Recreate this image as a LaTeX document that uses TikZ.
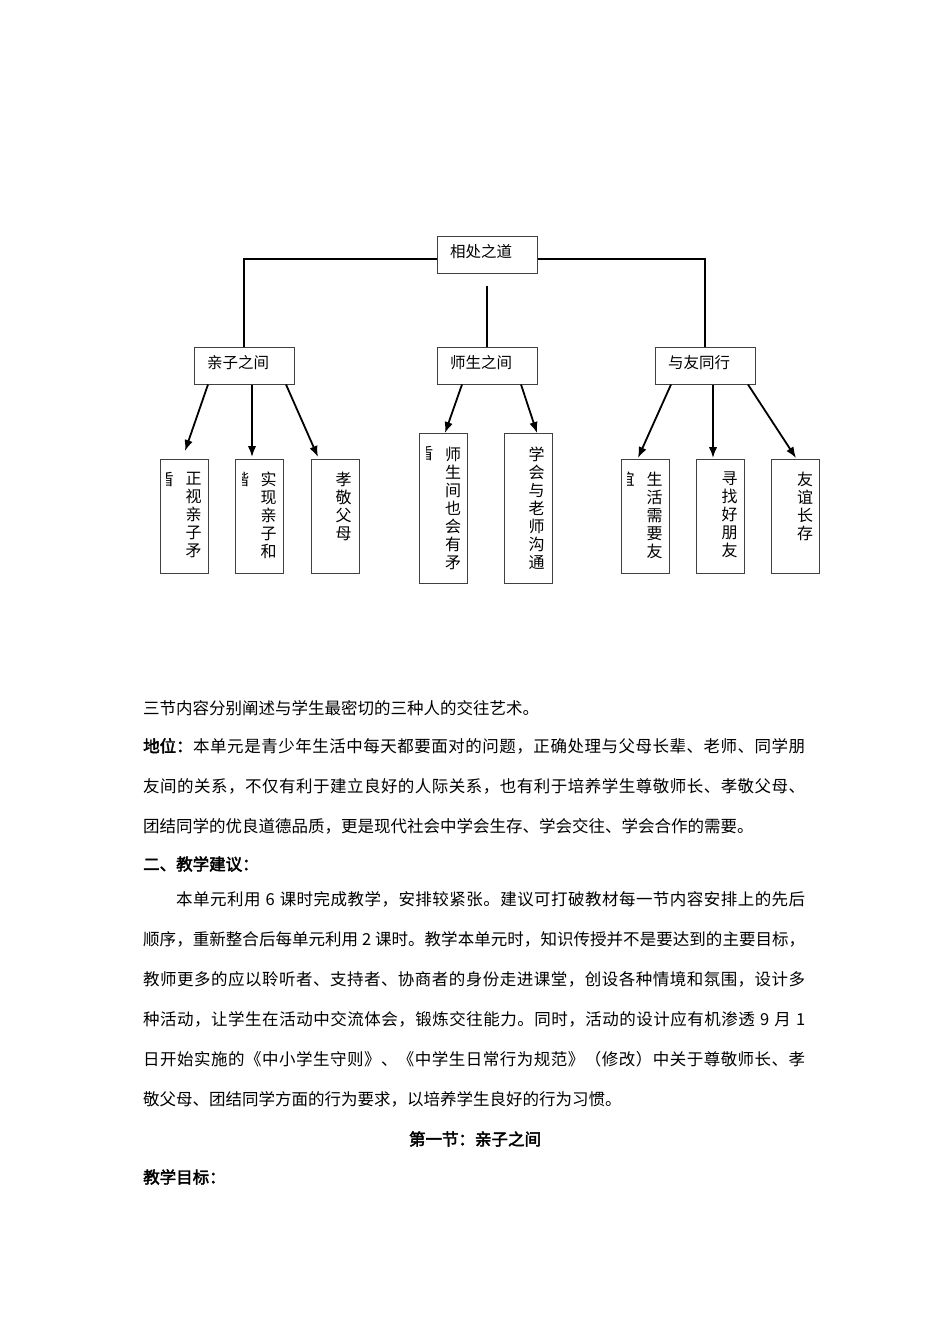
\documentclass[tikz,border=0pt]{standalone}
\usepackage{fontspec}
\newfontfamily\cjk[AutoFakeBold=2.5]{Noto Sans CJK SC}
\usetikzlibrary{
  arrows.meta,
  calc,
  positioning
}

\newcommand\spread[1]{#1\spreadrest}
\newcommand\spreadrest[1]{\ifx\relax#1\else\hskip0pt plus1pt\relax #1\expandafter\spreadrest\fi}
\newcommand\cutchar[2]{%
  \begin{scope}
    \clip ($(#1.north)+(-17.5,5)$) rectangle ($(#1.north)+(-10,35)$);
    \node[vcol] (#1-cut) at ($(#1.north)+(-18.5,13)$) {#2};
  \end{scope}}

\begin{document}
\begin{tikzpicture}[
  x=1pt, y=-1pt,
  box/.style={draw=black!75, line width=1pt, inner sep=0pt},
  headbox/.style={
    box, minimum width=100pt, minimum height=37pt,
    text width=74pt, inner xsep=13pt, align=left, text depth=8pt,
    font=\cjk\fontsize{15.5}{18}\selectfont
    },
  leaf/.style={box, minimum width=48pt, anchor=north},
  shortleaf/.style={leaf, minimum height=114pt},
  tallleaf/.style={leaf, minimum height=150pt},
  vcol/.style={inner sep=0pt, anchor=north, align=center,
    font=\cjk\fontsize{16}{18}\selectfont},
  link/.style={line width=1.8pt},
  arrow/.style={line width=1.8pt, -{Latex[length=11pt,width=8.5pt]}},
  para/.style={anchor=west, inner sep=0pt, font=\cjk\fontsize{16.5}{20}\selectfont}
  ]
\fill[white] (0,0) rectangle (950,1344);
\useasboundingbox (0,0) rectangle (950,1344);

\node[headbox] (dao) at (487,254.5) {相处之道};
\node[headbox] (qinzi) at (244,365.5) {亲子之间};
\node[headbox] (shisheng) at (487,365.5) {师生之间};
\node[headbox] (youyou) at (705,365.5) {与友同行};

\draw[link] ($(dao.west)+(0,4.5)$) -| (qinzi.north);
\draw[link] ($(dao.east)+(0,4.5)$) -| (youyou.north);
\draw[link] ($(dao.south)+(0,12)$) -- (shisheng.north);

\node[shortleaf] (zhengshi) at (184,459) {};
\node[shortleaf] (shixian) at (259.5,459) {};
\node[shortleaf] (xiaojing) at (335,459) {};
\node[tallleaf] (shijian) at (443.5,433) {};
\node[tallleaf] (xuehui) at (528,433) {};
\node[shortleaf] (shenghuo) at (645,459) {};
\node[shortleaf] (xunzhao) at (720,459) {};
\node[shortleaf] (youyi) at (795.5,459) {};

\node[vcol] (zhengshi-t) at ($(zhengshi.north)+(9.5,13)$) {正\\视\\亲\\子\\矛};
\node[vcol] (shixian-t) at ($(shixian.north)+(9,13)$) {实\\现\\亲\\子\\和};
\node[vcol] (xiaojing-t) at ($(xiaojing.north)+(8.5,13)$) {孝\\敬\\父\\母};
\node[vcol] (shijian-t) at ($(shijian.north)+(9.5,14)$) {师\\生\\间\\也\\会\\有\\矛};
\node[vcol] (xuehui-t) at ($(xuehui.north)+(8.5,14)$) {学\\会\\与\\老\\师\\沟\\通};
\node[vcol] (shenghuo-t) at ($(shenghuo.north)+(9.5,13)$) {生\\活\\需\\要\\友};
\node[vcol] (xunzhao-t) at ($(xunzhao.north)+(9.5,13)$) {寻\\找\\好\\朋\\友};
\node[vcol] (youyi-t) at ($(youyi.north)+(9.5,13)$) {友\\谊\\长\\存};

\cutchar{zhengshi}{盾}
\cutchar{shixian}{谐}
\cutchar{shijian}{盾}
\cutchar{shenghuo}{谊}

\draw[arrow] ($(qinzi.south)+(-36,0)$) -- ($(zhengshi.north)+(1,-8)$);
\draw[arrow] ($(qinzi.south)+(8,0)$) -- ($(shixian.north)+(-7.5,-2)$);
\draw[arrow] ($(qinzi.south)+(42,0)$) -- ($(xiaojing.north)+(-17,-2)$);
\draw[arrow] ($(shisheng.south)+(-25,0)$) -- ($(shijian.north)+(1.5,0)$);
\draw[arrow] ($(shisheng.south)+(34,0)$) -- ($(xuehui.north)+(9,0)$);
\draw[arrow] ($(youyou.south)+(-34,0)$) -- ($(shenghuo.north)+(-7,-1)$);
\draw[arrow] ($(youyou.south)+(8,0)$) -- ($(xunzhao.north)+(-7,-1)$);
\draw[arrow] ($(youyou.south)+(43,0)$) -- ($(youyi.north)+(0.5,-1)$);

\node[para] (line1) at (143,708) {三节内容分别阐述与学生最密切的三种人的交往艺术。};
\node[para] (line2) at (143,746) {\hbox to 662pt{\textbf{地位：}\hskip0pt plus1pt\spread 本单元是青少年生活中每天都要面对的问题，正确处理与父母长辈、老师、同学朋\relax}};
\node[para] (line3) at (143,786) {\hbox to 662pt{\spread 友间的关系，不仅有利于建立良好的人际关系，也有利于培养学生尊敬师长、孝敬父母、\relax}};
\node[para] (line4) at (143,826) {团结同学的优良道德品质，更是现代社会中学会生存、学会交往、学会合作的需要。};
\node[para] (line5) at (143,864) {\bfseries 二、教学建议：};
\node[para] (line6) at (176,899) {\hbox to 629pt{\spread 本单元利用{~6~}课时完成教学，安排较紧张。建议可打破教材每一节内容安排上的先后\relax}};
\node[para] (line7) at (143,939) {\hbox to 662pt{\spread 顺序，重新整合后每单元利用{~2~}课时。教学本单元时，知识传授并不是要达到的主要目标，\relax}};
\node[para] (line8) at (143,979) {\hbox to 662pt{\spread 教师更多的应以聆听者、支持者、协商者的身份走进课堂，创设各种情境和氛围，设计多\relax}};
\node[para] (line9) at (143,1019) {\hbox to 662pt{\spread 种活动，让学生在活动中交流体会，锻炼交往能力。同时，活动的设计应有机渗透{~9~}月{~1}\relax}};
\node[para] (line10) at (143,1059) {\hbox to 662pt{\spread 日开始实施的《中小学生守则》、《中学生日常行为规范》（修改）中关于尊敬师长、孝\relax}};
\node[para] (line11) at (143,1099) {敬父母、团结同学方面的行为要求，以培养学生良好的行为习惯。};
\node[para, anchor=center] (line12) at (475,1139) {\bfseries 第一节：亲子之间};
\node[para] (line13) at (143,1177) {\bfseries 教学目标：};
\end{tikzpicture}
\end{document}
